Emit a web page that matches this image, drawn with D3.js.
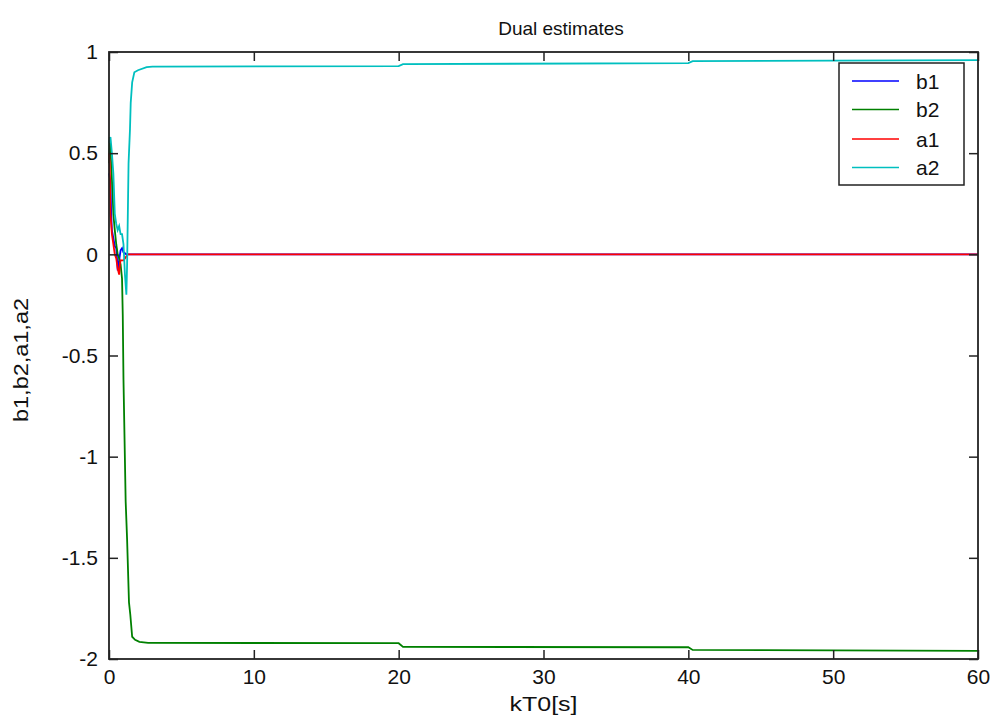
<!DOCTYPE html>
<html><head><meta charset="utf-8">
<script src="https://cdn.jsdelivr.net/npm/d3@7"></script>
<style>
html,body{margin:0;padding:0;background:#fff;}
svg{display:block;}
text{font-family:"Liberation Sans",Arial,sans-serif;fill:#111;}
</style></head>
<body><svg id="chart" width="994" height="724"></svg>
<script>
// ---- data (time [s], value) ----
const seriesNames = ["b1", "b2", "a1", "a2"];
const seriesColors = ["#0000ff", "#008000", "#ff0000", "#00bfbf"];
const b1 = [[0,0.40],[0.1,0.36],[0.15,0.2],[0.2,0.12],[0.3,0.08],[0.4,0.04],[0.5,0.03],[0.55,-0.02],[0.6,-0.08],[0.7,-0.03],[0.8,0.02],[0.9,0.03],[1.0,0.01],[1.2,0.0],[60,0.0]];
const b2 = [[0,0.45],[0.05,0.58],[0.15,0.45],[0.25,0.3],[0.3,0.2],[0.4,0.12],[0.5,0.05],[0.6,0.0],[0.7,-0.02],[0.8,-0.05],[0.9,-0.12],[0.95,-0.3],[1.0,-0.62],[1.15,-1.22],[1.25,-1.41],[1.38,-1.72],[1.47,-1.78],[1.6,-1.89],[1.8,-1.905],[2.1,-1.915],[2.7,-1.92],[20,-1.922],[20.3,-1.94],[40,-1.942],[40.3,-1.955],[60,-1.96]];
const a1 = [[0,0.5],[0.05,0.45],[0.1,0.2],[0.2,0.1],[0.3,0.05],[0.4,0.0],[0.5,-0.02],[0.6,-0.07],[0.7,-0.1],[0.75,-0.05],[0.8,-0.03],[1.0,-0.03],[1.1,-0.02],[1.3,0.0],[60,0.0]];
const a2 = [[0,0.55],[0.1,0.58],[0.2,0.5],[0.3,0.4],[0.35,0.3],[0.4,0.2],[0.5,0.15],[0.6,0.12],[0.7,0.14],[0.8,0.1],[0.9,0.1],[1.0,0.05],[1.1,-0.1],[1.2,-0.2],[1.25,-0.05],[1.35,0.45],[1.45,0.62],[1.5,0.75],[1.6,0.85],[1.75,0.9],[2.0,0.91],[2.6,0.925],[3.0,0.928],[20,0.93],[20.3,0.94],[40,0.945],[40.3,0.955],[60,0.96]];
const seriesData = [b1, b2, a1, a2];
const xTicks = [0, 10, 20, 30, 40, 50, 60];
const yTicks = [-2, -1.5, -1, -0.5, 0, 0.5, 1];
const titleText = "Dual estimates";
const xLabelText = "kT0[s]";
const yLabelText = "b1,b2,a1,a2";

// ---- layout ----
const L = 109, R = 978, T = 52, B = 659;
const svg = d3.select("#chart");
const x = d3.scaleLinear().domain([0, 60]).range([L, R]);
const y = d3.scaleLinear().domain([-2, 1]).range([B, T]);
const tickLen = 9;
const fs = 21;

// series
const line = d3.line().x(d => x(d[0])).y(d => y(d[1]));
const plot = svg.append("g");
seriesData.forEach((s, i) => {
  plot.append("path").datum(s).attr("d", line)
    .attr("fill", "none").attr("stroke", seriesColors[i])
    .attr("stroke-width", 1.8).attr("stroke-linejoin", "miter");
});

// axes (inward ticks on all four sides)
const axB = d3.axisBottom(x).tickValues(xTicks).tickSize(-tickLen).tickPadding(10).tickFormat(d3.format("d"));
const axT = d3.axisTop(x).tickValues(xTicks).tickSize(-tickLen).tickFormat("");
const axL = d3.axisLeft(y).tickValues(yTicks).tickSize(-tickLen).tickPadding(11).tickFormat(d => String(d));
const axR = d3.axisRight(y).tickValues(yTicks).tickSize(-tickLen).tickFormat("");
function style(g) {
  g.select(".domain").remove();
  g.selectAll(".tick line").attr("stroke", "#222").attr("stroke-width", 1.5);
  g.selectAll(".tick text").attr("font-size", fs).attr("fill", "#111")
    .attr("font-family", '"Liberation Sans",Arial,sans-serif');
}
svg.append("g").attr("transform", `translate(0,${B})`).call(axB).call(style);
svg.append("g").attr("transform", `translate(0,${T})`).call(axT).call(style);
svg.append("g").attr("transform", `translate(${L},0)`).call(axL).call(style);
svg.append("g").attr("transform", `translate(${R},0)`).call(axR).call(style);

svg.append("rect").attr("x", L).attr("y", T).attr("width", R - L).attr("height", B - T)
  .attr("fill", "none").attr("stroke", "#222").attr("stroke-width", 1.8);

// titles
svg.append("text").attr("x", 561).attr("y", 35).attr("text-anchor", "middle")
  .attr("font-size", 19).text(titleText);
svg.append("text").attr("x", (L + R) / 2).attr("y", 711).attr("text-anchor", "middle")
  .attr("font-size", fs).attr("textLength", 68).attr("lengthAdjust", "spacingAndGlyphs").text(xLabelText);
svg.append("text").attr("transform", `translate(28,360) rotate(-90)`)
  .attr("text-anchor", "middle").attr("font-size", fs)
  .attr("textLength", 124).attr("lengthAdjust", "spacingAndGlyphs").text(yLabelText);

// legend
const lg = svg.append("g");
lg.append("rect").attr("x", 839).attr("y", 63).attr("width", 125).attr("height", 122)
  .attr("fill", "#fff").attr("stroke", "#222").attr("stroke-width", 1.5);
const rowY = [81, 109.5, 139, 167.5];
seriesNames.forEach((n, i) => {
  lg.append("line").attr("x1", 852).attr("x2", 899).attr("y1", rowY[i]).attr("y2", rowY[i])
    .attr("stroke", seriesColors[i]).attr("stroke-width", 1.6);
  lg.append("text").attr("x", 916).attr("y", rowY[i]).attr("dy", "0.36em")
    .attr("font-size", fs).text(n);
});
</script></body></html>
